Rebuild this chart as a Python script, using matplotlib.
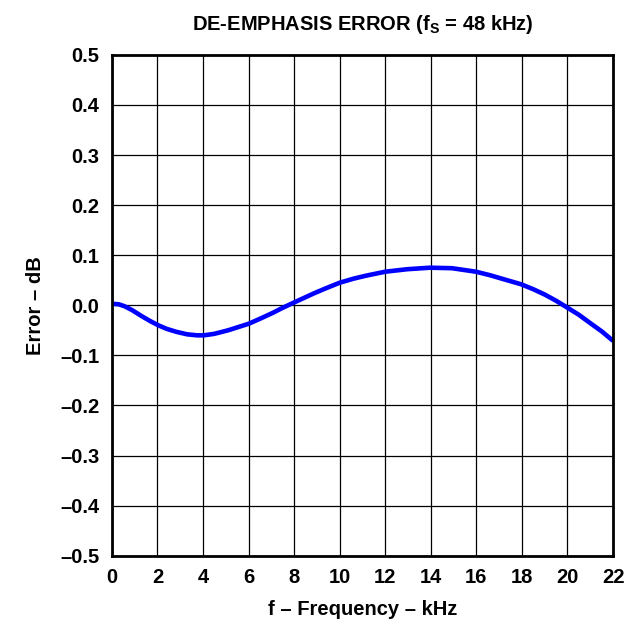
import matplotlib
matplotlib.use('Agg')
from matplotlib import pyplot as plt
import numpy as np

# frequency (kHz) and de-emphasis error (dB)
freq = [0.0, 0.3, 0.56, 0.9, 1.32, 1.7, 2.04, 2.4, 2.83, 3.3, 3.74, 4.04,
        4.5, 5.1, 6.0, 6.5, 7.07, 7.5, 8.02, 8.88, 9.4, 10.0, 10.6, 11.15,
        12.0, 12.97, 13.96, 14.93, 15.98, 16.6, 17.2, 17.96, 18.5, 19.02,
        19.5, 19.97, 20.5, 20.98, 21.5, 22.0]
error = [0.003, 0.002, -0.002, -0.010, -0.022, -0.032, -0.040, -0.047,
         -0.053, -0.058, -0.060, -0.060, -0.057, -0.050, -0.037, -0.027,
         -0.015, -0.005, 0.006, 0.024, 0.034, 0.045, 0.053, 0.059, 0.067,
         0.072, 0.075, 0.074, 0.067, 0.060, 0.052, 0.042, 0.032, 0.021,
         0.009, -0.004, -0.019, -0.035, -0.052, -0.071]

xticks = list(range(0, 23, 2))
yticks = [-0.5, -0.4, -0.3, -0.2, -0.1, 0.0, 0.1, 0.2, 0.3, 0.4, 0.5]
ylabels = ['\u20130.5', '\u20130.4', '\u20130.3', '\u20130.2', '\u20130.1',
           '0.0', '0.1', '0.2', '0.3', '0.4', '0.5']

plt.rcParams['font.family'] = ['Liberation Sans', 'DejaVu Sans']
plt.rcParams['font.weight'] = 'bold'
plt.rcParams['mathtext.fontset'] = 'custom'
plt.rcParams['mathtext.bf'] = 'Liberation Sans:bold'
plt.rcParams['mathtext.rm'] = 'Liberation Sans:bold'

fs = 14.5
fig = plt.figure(figsize=(6.32, 6.23), dpi=100)
ax = fig.add_axes([0.177, 0.108, 0.793, 0.804])

ax.plot(freq, error, c='#0000ff', lw=3.3, solid_capstyle='butt')

ax.set_xlim(0, 22)
ax.set_ylim(-0.5, 0.5)
ax.set_xticks(xticks)
ax.set_yticks(yticks)
ax.set_yticklabels(ylabels)
ax.grid(True, color='black', lw=0.9)
ax.set_axisbelow(True)
ax.tick_params(axis='y', length=0, labelsize=fs, pad=9)
ax.tick_params(axis='x', length=0, labelsize=fs, pad=9)
for sp in ax.spines.values():
    sp.set_linewidth(2)

ax.set_title(r'DE-EMPHASIS ERROR (f$_\mathbf{S}$ = 48 kHz)',
             fontsize=fs, fontweight='bold', pad=18)
ax.set_xlabel('f \u2013 Frequency \u2013 kHz', fontsize=fs, fontweight='bold', labelpad=9)
ax.set_ylabel('Error \u2013 dB', fontsize=fs, fontweight='bold', labelpad=11)

fig.savefig('out.png', dpi=100)
